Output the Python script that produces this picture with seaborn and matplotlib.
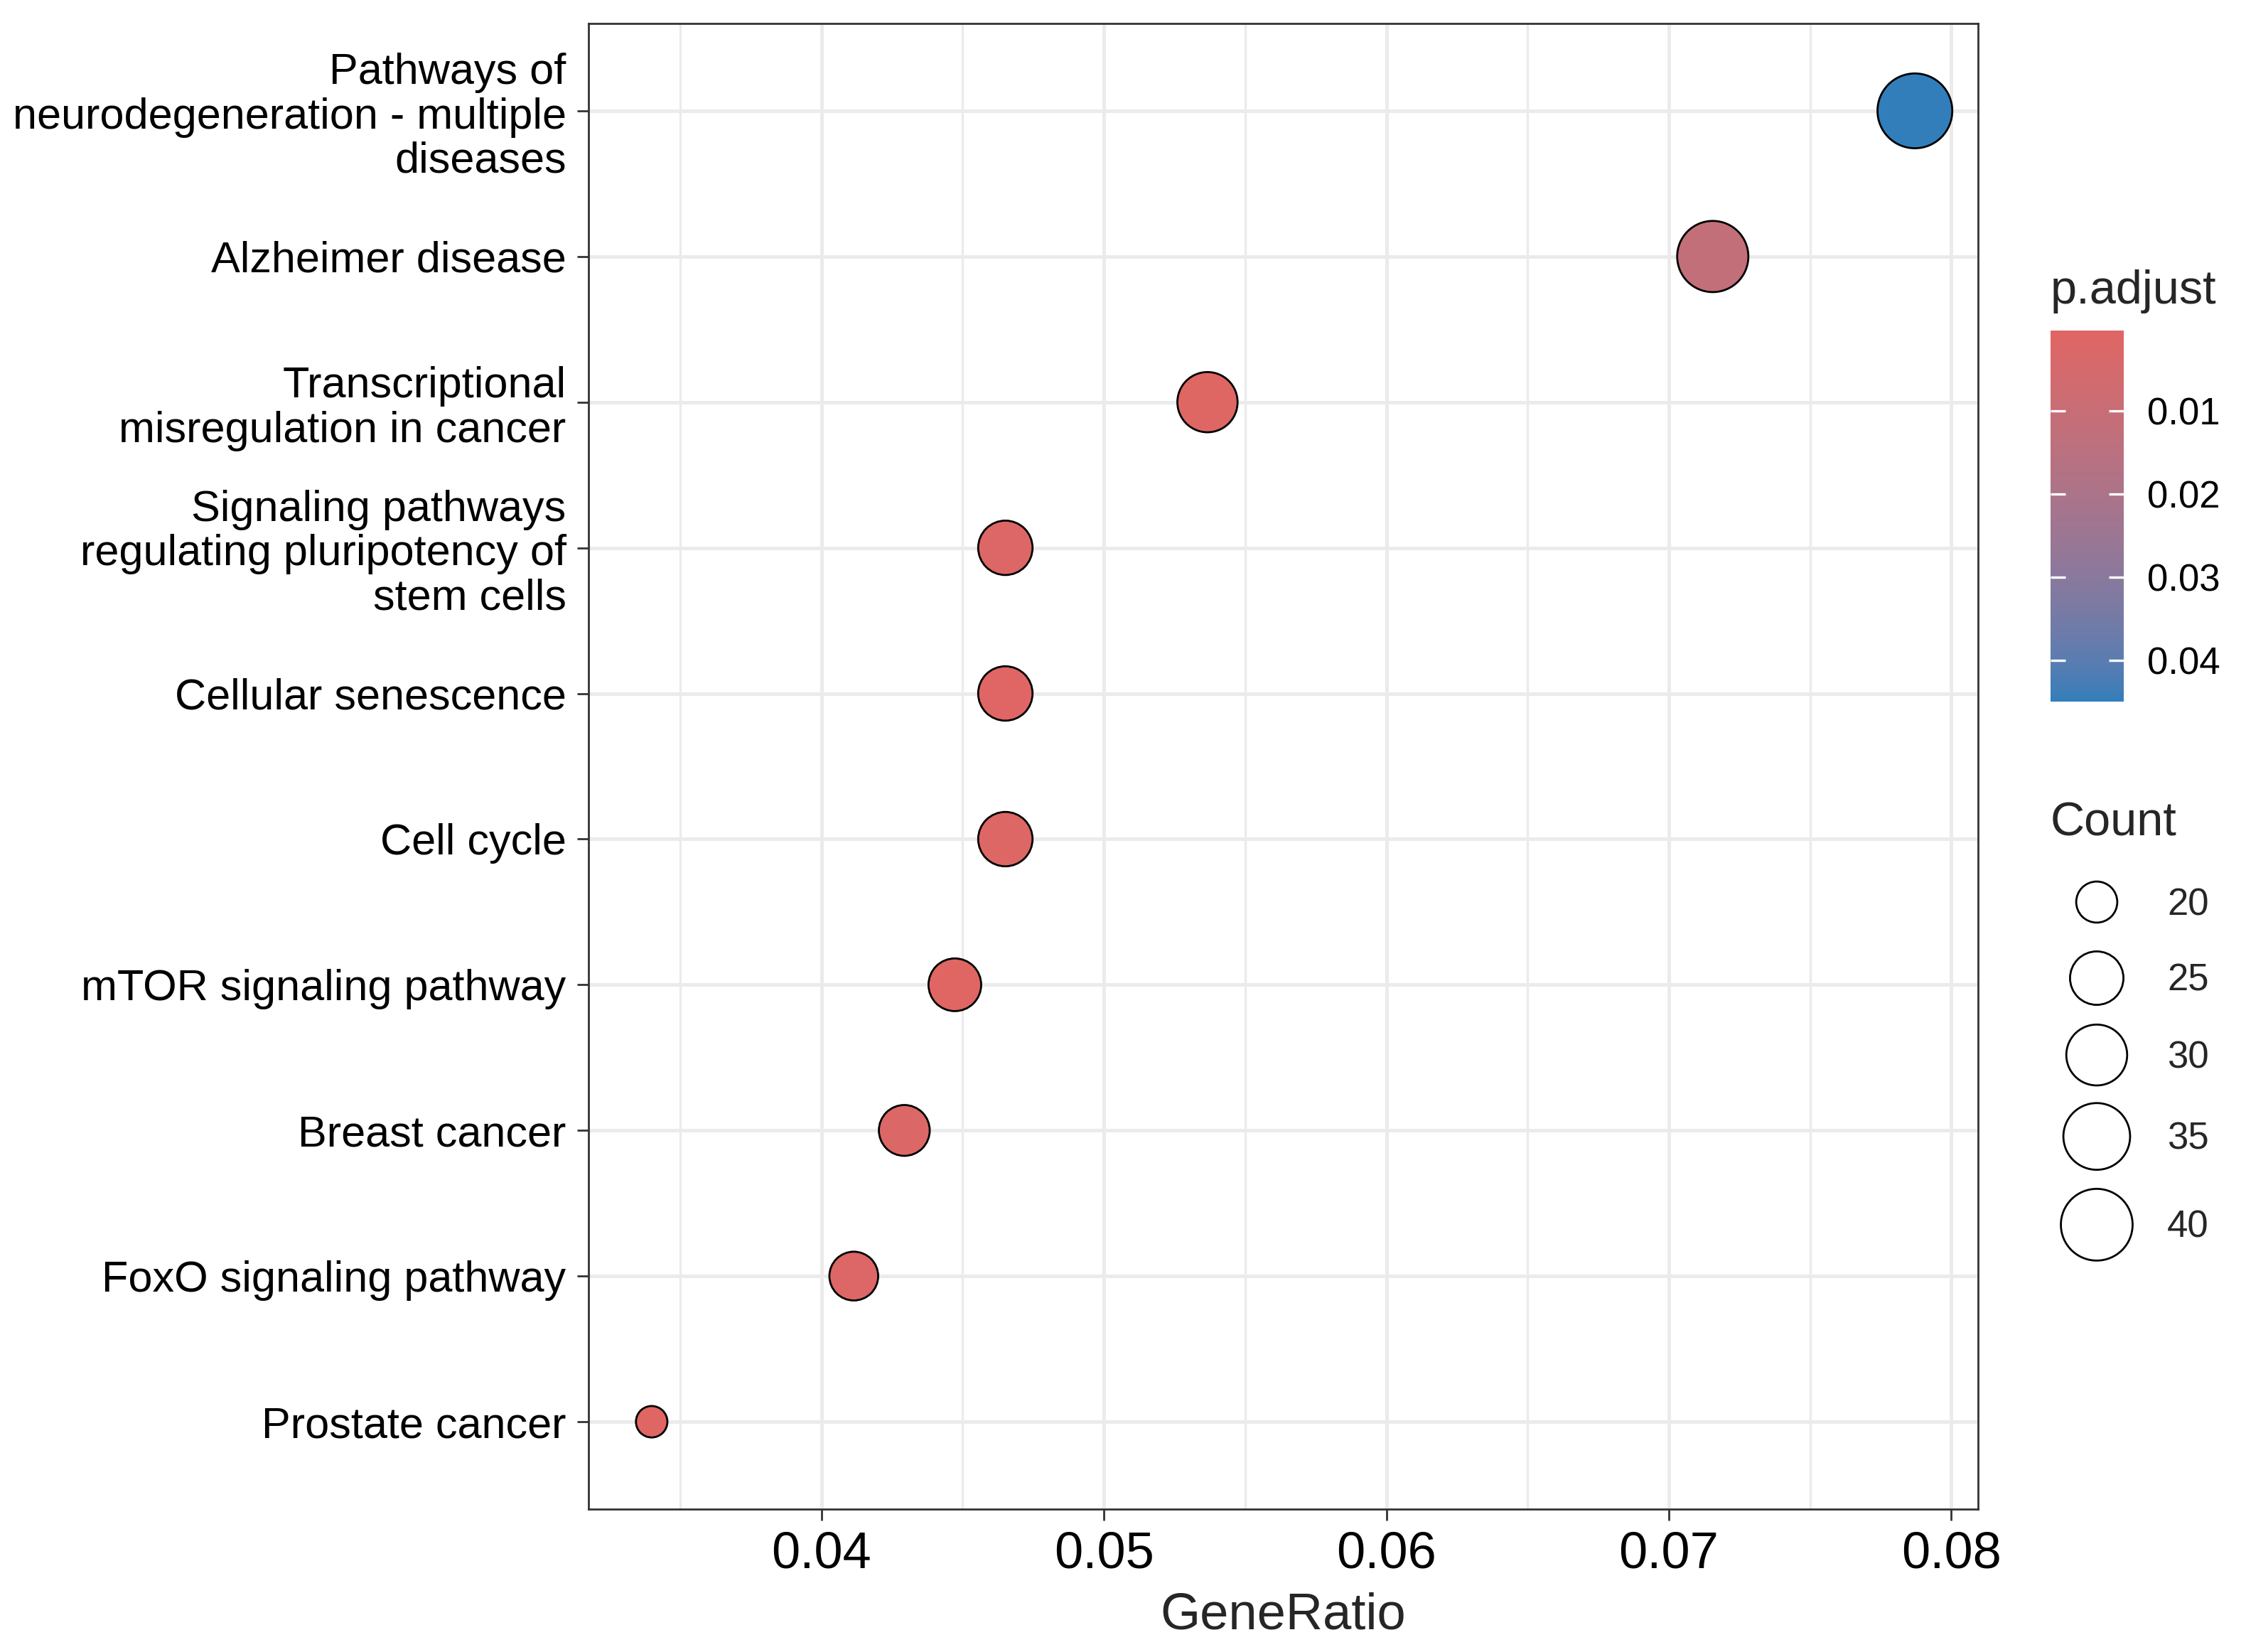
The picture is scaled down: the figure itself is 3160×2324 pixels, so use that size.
import numpy as np
import pandas as pd
import matplotlib
matplotlib.use("Agg")
import matplotlib.pyplot as plt
import seaborn as sns
from matplotlib.colors import LinearSegmentedColormap, Normalize
from matplotlib.cm import ScalarMappable
from matplotlib.ticker import MultipleLocator

# ---------------- data ----------------
descriptions = [
    "Pathways of\nneurodegeneration - multiple\ndiseases",
    "Alzheimer disease",
    "Transcriptional\nmisregulation in cancer",
    "Signaling pathways\nregulating pluripotency of\nstem cells",
    "Cellular senescence",
    "Cell cycle",
    "mTOR signaling pathway",
    "Breast cancer",
    "FoxO signaling pathway",
    "Prostate cancer",
]
counts = [44, 40, 30, 26, 26, 26, 25, 24, 23, 19]
gene_total = 559
p_adjust = [0.0450, 0.0118, 0.0012, 0.0021, 0.0009, 0.0015, 0.0004, 0.0023, 0.0018, 0.00034]
size_breaks = [20, 25, 30, 35, 40]
color_breaks = [0.01, 0.02, 0.03, 0.04]
color_break_labels = ["0.01", "0.02", "0.03", "0.04"]

df = pd.DataFrame({
    "Description": descriptions,
    "Count": counts,
    "GeneRatio": np.array(counts) / gene_total,
    "p.adjust": p_adjust,
})

# ---------------- style ----------------
DPI = 200
W_PX, H_PX = 3160, 2324
EDGE_LW = 1.0
sns.set_style("white")
plt.rcParams["font.family"] = ["Liberation Sans", "DejaVu Sans"]

# Lab interpolated gradient (like ggplot's seq_gradient_pal)
def _hex_to_rgb(h):
    h = h.lstrip("#")
    return np.array([int(h[i:i + 2], 16) / 255 for i in (0, 2, 4)])

_M = np.array([[0.4124, 0.3576, 0.1805], [0.2126, 0.7152, 0.0722], [0.0193, 0.1192, 0.9505]])
_WHITE = np.array([0.95047, 1.0, 1.08883])

def _rgb_to_lab(rgb):
    lin = np.where(rgb <= 0.04045, rgb / 12.92, ((rgb + 0.055) / 1.055) ** 2.4)
    xyz = _M @ lin / _WHITE
    f = np.where(xyz > 0.008856, np.cbrt(xyz), 7.787 * xyz + 16 / 116)
    return np.array([116 * f[1] - 16, 500 * (f[0] - f[1]), 200 * (f[1] - f[2])])

def _lab_to_rgb(lab):
    fy = (lab[0] + 16) / 116
    f = np.array([fy + lab[1] / 500, fy, fy - lab[2] / 200])
    xyz = np.where(f ** 3 > 0.008856, f ** 3, (f - 16 / 116) / 7.787) * _WHITE
    lin = np.linalg.solve(_M, xyz)
    rgb = np.where(lin <= 0.0031308, 12.92 * lin, 1.055 * np.clip(lin, 0, None) ** (1 / 2.4) - 0.055)
    return np.clip(rgb, 0, 1)

low_lab, high_lab = _rgb_to_lab(_hex_to_rgb("#e06663")), _rgb_to_lab(_hex_to_rgb("#327eba"))
grad = [_lab_to_rgb(low_lab + t * (high_lab - low_lab)) for t in np.linspace(0, 1, 64)]
cmap = LinearSegmentedColormap.from_list("padj", grad)

pmin, pmax = min(p_adjust), max(p_adjust)
cmin, cmax = min(counts), max(counts)

def outer_px(c):
    return 47 + 61 * np.sqrt((c - cmin) / (cmax - cmin))

def marker_area(c):
    return (outer_px(c) * 72 / DPI - EDGE_LW) ** 2

size_map = {c: marker_area(c) for c in sorted(set(counts))}

# ---------------- figure ----------------
fig = plt.figure(figsize=(W_PX / DPI, H_PX / DPI), dpi=DPI)
fig.patch.set_facecolor("white")
ax = fig.add_axes([828 / W_PX, 1 - 2123 / H_PX, (2783 - 828) / W_PX, (2123 - 33) / H_PX])

sns.scatterplot(data=df, x="GeneRatio", y="Description", hue="p.adjust", size="Count",
                sizes=size_map, palette=cmap, hue_norm=(pmin, pmax),
                edgecolor="black", linewidth=EDGE_LW, legend=False, ax=ax, zorder=3)

xr = df["GeneRatio"].max() - df["GeneRatio"].min()
ax.set_xlim(df["GeneRatio"].min() - 0.05 * xr, df["GeneRatio"].max() + 0.05 * xr)
ax.set_ylim(len(descriptions) - 1 + 0.6, -0.6)
ax.xaxis.set_major_locator(MultipleLocator(0.01))
ax.xaxis.set_minor_locator(MultipleLocator(0.005))
ax.set_xticklabels([f"{t:.2f}" for t in ax.get_xticks()])

ax.grid(True, which="major", color="#EBEBEB", linewidth=1.8, zorder=0)
ax.grid(True, which="minor", axis="x", color="#EBEBEB", linewidth=1.2, zorder=0)
ax.set_axisbelow(True)
for s in ax.spines.values():
    s.set_color("#333333")
    s.set_linewidth(1.0)
ax.tick_params(axis="both", which="major", length=5.8, width=1.0, color="#333333",
               labelcolor="black", bottom=True, left=True)
ax.tick_params(axis="x", which="major", labelsize=26, pad=5)
ax.tick_params(axis="y", which="major", labelsize=22, pad=5.5)
ax.tick_params(axis="x", which="minor", length=0)
for lab in ax.get_yticklabels():
    lab.set_linespacing(1.12)
ax.set_xlabel("GeneRatio", fontsize=26, labelpad=7)
ax.set_ylabel("")

# ---------------- colour bar ----------------
cax = fig.add_axes([2885 / W_PX, 1 - 987 / H_PX, 103 / W_PX, 522 / H_PX])
sm = ScalarMappable(norm=Normalize(pmin, pmax), cmap=cmap)
cb = fig.colorbar(sm, cax=cax)
cb.outline.set_visible(False)
cb.set_ticks(color_breaks)
cb.set_ticklabels(color_break_labels)
cax.invert_yaxis()
cax.set_axisbelow(False)
cax.yaxis.set_zorder(5)
cax.tick_params(left=True, right=True, labelleft=False, labelright=True, direction="in",
                color="white", length=7.4, width=1.2, labelsize=19, pad=12, labelcolor="black")
fig.text(2885 / W_PX, 1 - 427 / H_PX, "p.adjust", fontsize=24, ha="left", va="baseline")

# ---------------- size legend ----------------
lax = fig.add_axes([0, 0, 1, 1], facecolor="none")
lax.set_xlim(0, W_PX)
lax.set_ylim(H_PX, 0)
lax.axis("off")
fig.text(2885 / W_PX, 1 - 1175 / H_PX, "Count", fontsize=24, ha="left", va="baseline")
key_h = [max(107, 1.25 * outer_px(b)) for b in size_breaks]
centers = [1269]
for i in range(1, len(size_breaks)):
    centers.append(centers[-1] + (key_h[i - 1] + key_h[i]) / 2)
lax.scatter([2950] * len(size_breaks), centers, s=[marker_area(b) + 20 for b in size_breaks],
            facecolors="none", edgecolors="black", linewidths=EDGE_LW)
for b, yc in zip(size_breaks, centers):
    lax.text(3049, yc + 4, str(b), fontsize=19, ha="left", va="center")

fig.savefig("out.png", dpi=DPI, facecolor="white")
